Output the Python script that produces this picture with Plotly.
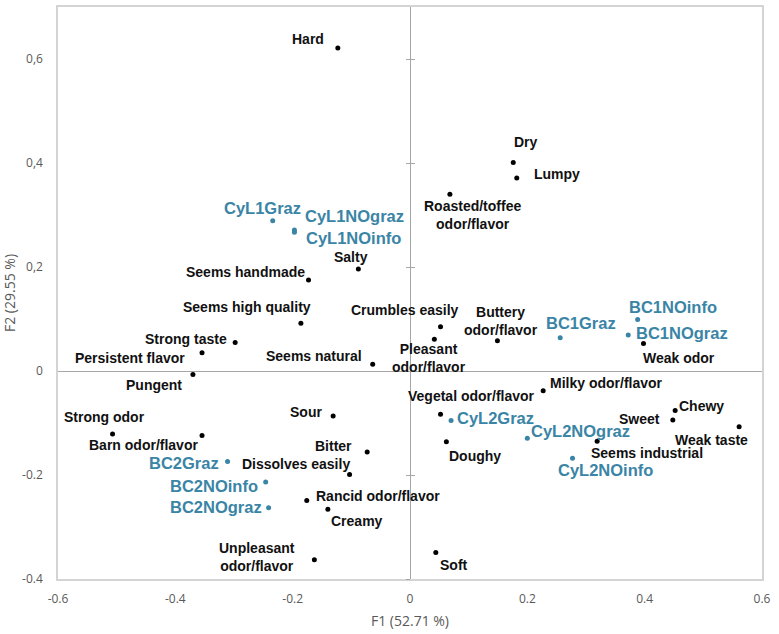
import plotly.graph_objects as go

# ---- data ----
attr_names = ["Hard", "Dry", "Lumpy", "Roasted/toffee<br>odor/flavor", "Salty", "Seems handmade",
              "Seems high quality", "Crumbles easily", "Pleasant<br>odor/flavor", "Buttery<br>odor/flavor",
              "Weak odor", "Strong taste", "Persistent flavor", "Pungent", "Seems natural",
              "Milky odor/flavor", "Vegetal odor/flavor", "Doughy", "Seems industrial", "Chewy", "Sweet",
              "Weak taste", "Soft", "Strong odor", "Barn odor/flavor", "Sour", "Bitter", "Dissolves easily",
              "Rancid odor/flavor", "Creamy", "Unpleasant<br>odor/flavor"]
attr_f1 = [-0.123, 0.176, 0.182, 0.068, -0.088, -0.173,
           -0.186, 0.052, 0.0415, 0.149,
           0.398, -0.298, -0.3545, -0.370, -0.0636,
           0.227, 0.052, 0.062, 0.319, 0.452, 0.448,
           0.561, 0.044, -0.507, -0.3545, -0.131, -0.073, -0.103,
           -0.176, -0.140, -0.163]
attr_f2 = [0.621, 0.401, 0.371, 0.340, 0.196, 0.175,
           0.092, 0.085, 0.061, 0.058,
           0.053, 0.055, 0.035, -0.0065, 0.013,
           -0.038, -0.083, -0.136, -0.135, -0.076, -0.094,
           -0.107, -0.349, -0.121, -0.124, -0.0865, -0.156, -0.199,
           -0.249, -0.266, -0.363]

sample_names = ["CyL1Graz", "CyL1NOgraz", "CyL1NOinfo", "BC1Graz", "BC1NOinfo", "BC1NOgraz",
                "CyL2Graz", "CyL2NOgraz", "CyL2NOinfo", "BC2Graz", "BC2NOinfo", "BC2NOgraz"]
sample_f1 = [-0.234, -0.197, -0.197, 0.256, 0.388, 0.372,
             0.070, 0.200, 0.277, -0.311, -0.246, -0.241]
sample_f2 = [0.289, 0.271, 0.267, 0.064, 0.099, 0.069,
             -0.095, -0.1295, -0.168, -0.174, -0.2135, -0.263]

y_tickvals = [-0.4, -0.2, 0, 0.2, 0.4, 0.6]
y_ticktext = ["-0.4", "-0.2", "0", "0,2", "0,4", "0,6"]
x_tickvals = [-0.6, -0.4, -0.2, 0, 0.2, 0.4, 0.6]
x_ticktext = ["-0.6", "-0.4", "-0.2", "0", "0.2", "0.4", "0.6"]

# ---- label placement (anchor, dx px, dy px downward) ----
attr_place = {
    "Hard": ("right", -12, -9),
    "Dry": ("center", 13, -20),
    "Lumpy": ("left", 15, -4),
    "Roasted/toffee<br>odor/flavor": ("center", 23, 21),
    "Salty": ("center", -7, -12),
    "Seems handmade": ("right", -2, -8),
    "Seems high quality": ("right", 12, -16),
    "Crumbles easily": ("right", 20, -17),
    "Pleasant<br>odor/flavor": ("center", -5, 19),
    "Buttery<br>odor/flavor": ("center", 4, -20),
    "Weak odor": ("left", -2, 15),
    "Strong taste": ("right", -6, -3),
    "Persistent flavor": ("right", -15, 5),
    "Pungent": ("right", -9, 11),
    "Seems natural": ("right", -9, -8),
    "Milky odor/flavor": ("left", 5, -8),
    "Vegetal odor/flavor": ("center", 31, -18),
    "Doughy": ("left", 1, 14),
    "Seems industrial": ("center", 50, 12),
    "Chewy": ("left", 2, -5),
    "Sweet": ("right", -11, -1),
    "Weak taste": ("center", -28, 13),
    "Soft": ("left", 2, 13),
    "Strong odor": ("center", -8, -17),
    "Barn odor/flavor": ("right", -2, 10),
    "Sour": ("right", -9, -4),
    "Bitter": ("right", -13, -6),
    "Dissolves easily": ("right", 2, -10),
    "Rancid odor/flavor": ("left", 7, -4),
    "Creamy": ("left", 1, 12),
    "Unpleasant<br>odor/flavor": ("center", -57, -3),
}
sample_place = {
    "CyL1Graz": ("center", -10, -13),
    "CyL1NOgraz": ("left", 9, -14),
    "CyL1NOinfo": ("left", 10, 6),
    "BC1Graz": ("center", 21, -15),
    "BC1NOinfo": ("center", 35, -13),
    "BC1NOgraz": ("left", 6, -2),
    "CyL2Graz": ("left", 4, -2),
    "CyL2NOgraz": ("left", 2, -7),
    "CyL2NOinfo": ("center", 33, 12),
    "BC2Graz": ("right", -7, 2),
    "BC2NOinfo": ("right", -6, 4),
    "BC2NOgraz": ("right", -5, -1),
}

BLUE = "#3a84a6"
LABEL_FONT = "Liberation Sans, Arial, sans-serif"
TICK_FONT = "Open Sans, Noto Sans, sans-serif"

fig = go.Figure()
fig.add_trace(go.Scatter(x=attr_f1, y=attr_f2, mode="markers",
                         marker=dict(color="black", size=5), hoverinfo="skip", showlegend=False))
fig.add_trace(go.Scatter(x=sample_f1, y=sample_f2, mode="markers",
                         marker=dict(color=BLUE, size=5), hoverinfo="skip", showlegend=False))

annotations = []
for n, x, y in zip(attr_names, attr_f1, attr_f2):
    a, dx, dy = attr_place[n]
    annotations.append(dict(x=x, y=y, text=n, showarrow=False, xanchor=a, yanchor="middle",
                            xshift=dx, yshift=-dy, align="center",
                            font=dict(family=LABEL_FONT, size=14, color="#111111", weight="bold")))
for n, x, y in zip(sample_names, sample_f1, sample_f2):
    a, dx, dy = sample_place[n]
    annotations.append(dict(x=x, y=y, text=n, showarrow=False, xanchor=a, yanchor="middle",
                            xshift=dx, yshift=-dy, align="center",
                            font=dict(family=LABEL_FONT, size=16.5, color=BLUE, weight="bold")))

fig.update_layout(
    width=779, height=634,
    margin=dict(l=58, r=17, t=7, b=55, autoexpand=False),
    paper_bgcolor="white", plot_bgcolor="white",
    annotations=annotations,
    xaxis=dict(range=[-0.6, 0.6], tickvals=x_tickvals, ticktext=x_ticktext, automargin=False,
               showgrid=False, zeroline=True, zerolinecolor="#a6a6a6", zerolinewidth=1,
               showline=True, linecolor="#d4d4d4", linewidth=1.5, mirror=True,
               ticks="", ticklabelstandoff=8,
               tickfont=dict(family=TICK_FONT, size=12, color="#595959"),
               title=dict(text="F1 (52.71 %)", standoff=10,
                          font=dict(family=TICK_FONT, size=14, color="#595959"))),
    yaxis=dict(range=[-0.4, 0.7], tickvals=y_tickvals, ticktext=y_ticktext, automargin=False,
               showgrid=False, zeroline=True, zerolinecolor="#a6a6a6", zerolinewidth=1,
               showline=True, linecolor="#d4d4d4", linewidth=1.5, mirror=True,
               ticks="", ticklabelstandoff=11,
               tickfont=dict(family=TICK_FONT, size=12, color="#595959"),
               title=dict(text="F2 (29.55 %)", standoff=12,
                          font=dict(family=TICK_FONT, size=14, color="#595959"))),
    yaxis2=dict(range=[-0.4, 0.7], tickvals=y_tickvals, overlaying="y", anchor="free", position=0.5,
                automargin=False,
                showgrid=False, zeroline=False, showline=False, showticklabels=False,
                ticks="outside", ticklen=4, tickcolor="#a6a6a6", tickwidth=1),
    yaxis3=dict(range=[-0.4, 0.7], tickvals=y_tickvals, overlaying="y", anchor="free", position=0.5,
                automargin=False,
                showgrid=False, zeroline=False, showline=False, showticklabels=False,
                ticks="inside", ticklen=4, tickcolor="#a6a6a6", tickwidth=1),
)
fig.add_trace(go.Scatter(x=[None], y=[None], yaxis="y2", showlegend=False, hoverinfo="skip"))
fig.add_trace(go.Scatter(x=[None], y=[None], yaxis="y3", showlegend=False, hoverinfo="skip"))

fig.write_html("out.html", config={"displayModeBar": False},
               post_script="document.body.style.margin='0';")
